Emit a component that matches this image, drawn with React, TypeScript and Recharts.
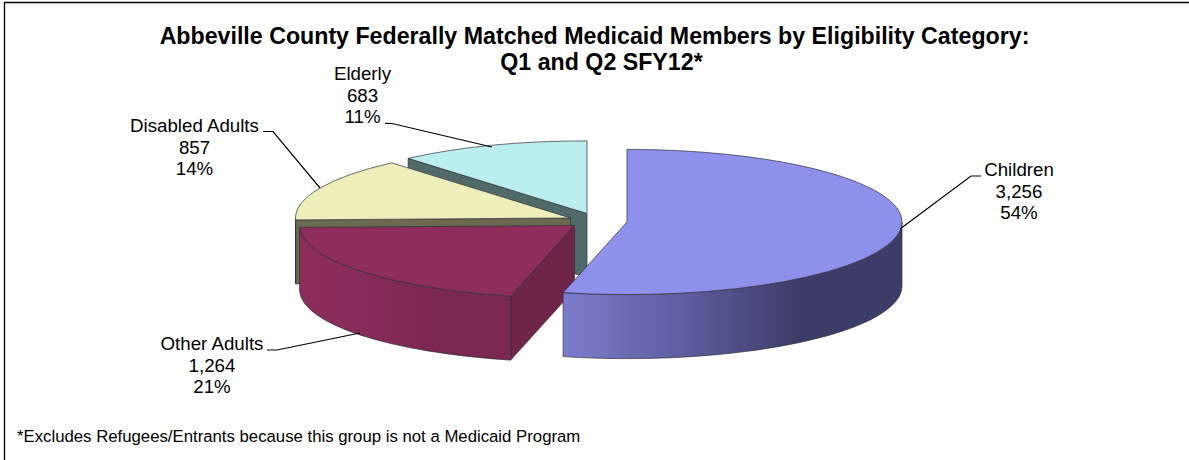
import * as React from "react";
import { Pie, PieChart } from "recharts";

// Drawn back to front: Recharts paints slices in data order, so the pie runs
// counter-clockwise from the top, which is the reference's paint order too.
const categories = ["Elderly", "Disabled Adults", "Other Adults", "Children"];
const members = [683, 857, 1264, 3256];

const topColors = ["#BBEEEE", "#EEEEBB", "#8F2E5D", "#8F8FEC"];
const cutColors = ["#506A6A", "#6A6A50", "#6F2449", "#3E3E6C"];
const wallFrom = ["#506A6A", "#6A6A50", "#8C2E5C", "#7C7CCC"];
const wallMid = ["#506A6A", "#6A6A50", "#862B59", "#5E5EA2"];
const wallTo = ["#506A6A", "#6A6A50", "#7A2751", "#3C3C68"];

// explosion of each slice from the pie centre, px
const explodeX = [2, -14.5, -10.5, 42];
const explodeY = [-6.5, -2, 5.5, 2];

const WIDTH = 1189;
const HEIGHT = 460;
const CX = 585;
const CY = 220;
const RADIUS = 275;
const TILT = 0.264;
const DEPTH = 64;
const FONT = '"Liberation Sans", Arial, sans-serif';
const EDGE = "#2f2f3a";

// label centre x, first baseline y, leader points
const labelSpots = [
  { x: 362.5, y: 80, leader: "385,123.3 392,123.5 492,147" },
  { x: 194.5, y: 132, leader: "263,131.5 273,131.5 320,188" },
  { x: 212, y: 350, leader: "267,350 277,350 360,333" },
  { x: 1019, y: 176, leader: "981,176 971,176 900,229" },
];

const data = categories.map((name, i) => ({ name, value: members[i] }));
const total = members.reduce((s, v) => s + v, 0);

const rad = (a: number) => (a * Math.PI) / 180;

function SliceShape(props: any) {
  const { startAngle, endAngle, outerRadius, cx, cy, index } = props;
  const a0 = Math.min(startAngle, endAngle);
  const a1 = Math.max(startAngle, endAngle);
  const rx = outerRadius;
  const ry = outerRadius * TILT;
  const ox = cx + explodeX[index];
  const oy = cy + explodeY[index];
  const pt = (a: number, drop = 0) => `${ox + rx * Math.cos(rad(a))} ${oy - ry * Math.sin(rad(a)) + drop}`;
  const apex = `${ox} ${oy}`;
  const apexLow = `${ox} ${oy + DEPTH}`;
  const large = a1 - a0 > 180 ? 1 : 0;

  // a cut face shows only when its outward normal points at the viewer
  const faces: React.ReactNode[] = [];
  const cut = (a: number, normal: number, key: string) => {
    if (Math.sin(rad(normal)) >= -0.001) return;
    faces.push(
      <path
        key={key}
        d={`M${apex} L${pt(a)} L${pt(a, DEPTH)} L${apexLow} Z`}
        fill={cutColors[index]}
        stroke={EDGE}
        strokeWidth={0.7}
      />,
    );
  };
  cut(a1, a1 + 90, "end");
  cut(a0, a0 - 90, "start");

  // outer wall: the part of the rim in the lower half of the ellipse
  const w0 = Math.max(a0, 180);
  const w1 = Math.min(a1, 360);
  const gradId = `wall-${index}`;
  return (
    <g>
      <defs>
        <linearGradient id={gradId} x1="0" y1="0" x2="1" y2="0">
          <stop offset="0%" stopColor={wallFrom[index]} />
          <stop offset="35%" stopColor={wallMid[index]} />
          <stop offset="70%" stopColor={wallTo[index]} />
          <stop offset="100%" stopColor={wallTo[index]} />
        </linearGradient>
      </defs>
      {faces}
      {w1 > w0 && (
        <path
          d={`M${pt(w0)} A${rx} ${ry} 0 0 0 ${pt(w1)} L${pt(w1, DEPTH)} A${rx} ${ry} 0 0 1 ${pt(w0, DEPTH)} Z`}
          fill={`url(#${gradId})`}
          stroke={EDGE}
          strokeWidth={0.7}
        />
      )}
      <path
        d={`M${apex} L${pt(a0)} A${rx} ${ry} 0 ${large} 0 ${pt(a1)} Z`}
        fill={topColors[index]}
        stroke={EDGE}
        strokeWidth={0.7}
      />
    </g>
  );
}

function SliceLabel(props: any) {
  const { index } = props;
  const spot = labelSpots[index];
  const lines = [
    categories[index],
    members[index].toLocaleString("en-US"),
    `${Math.round((members[index] / total) * 100)}%`,
  ];
  return (
    <g>
      <polyline points={spot.leader} fill="none" stroke="#000" strokeWidth={1.2} />
      {lines.map((t, i) => (
        <text key={i} x={spot.x} y={spot.y + i * 21.5} textAnchor="middle" fontFamily={FONT} fontSize={18.7} fill="#000">
          {t}
        </text>
      ))}
    </g>
  );
}

export default function App() {
  return (
    <div style={{ position: "absolute", left: 0, top: 0, width: WIDTH, height: HEIGHT, background: "#fff" }}>
      <PieChart width={WIDTH} height={HEIGHT} margin={{ top: 0, right: 0, bottom: 0, left: 0 }}>
        {/* the reference only has its top and left frame lines in shot */}
        <polyline points={`4.5,${HEIGHT} 4.5,2.5 ${WIDTH},2.5`} fill="none" stroke="#000" strokeWidth={1.3} />
        <text x={594.5} y={43.5} textAnchor="middle" fontFamily={FONT} fontSize={23.2} fontWeight="bold" fill="#000">
          Abbeville County Federally Matched Medicaid Members by Eligibility Category:
        </text>
        <text x={601.5} y={69.5} textAnchor="middle" fontFamily={FONT} fontSize={23.2} fontWeight="bold" fill="#000">
          Q1 and Q2 SFY12*
        </text>
        <Pie
          data={data}
          dataKey="value"
          nameKey="name"
          cx={CX}
          cy={CY}
          innerRadius={0}
          outerRadius={RADIUS}
          startAngle={90}
          endAngle={450}
          paddingAngle={0}
          stroke="none"
          shape={SliceShape}
          label={SliceLabel}
          labelLine={false}
          isAnimationActive={false}
        />
        <text x={17} y={442} fontFamily={FONT} fontSize={16.75} fill="#000">
          *Excludes Refugees/Entrants because this group is not a Medicaid Program
        </text>
      </PieChart>
    </div>
  );
}
